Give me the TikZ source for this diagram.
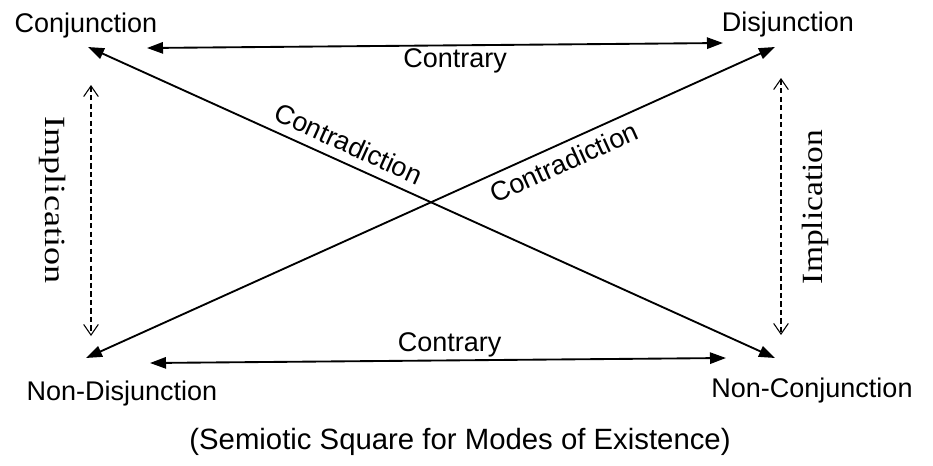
\documentclass[tikz,border=0pt]{standalone}
\usepackage{fontspec}
\setmainfont{Liberation Sans}
\newfontfamily\timesfont{Liberation Serif}
\usetikzlibrary{arrows.meta,calc}
\tikzset{
  >={Triangle[length=12pt,width=8.5pt]},
  barb/.tip={Straight Barb[length=8pt,width=11pt,line width=0.8pt]},
  corner/.style={font=\fontsize{20.25}{24}\selectfont,inner sep=0pt,anchor=base},
  tag/.style={font=\fontsize{20.25}{24}\selectfont,inner sep=1.5pt},
  flow/.style={<->,line width=1.4pt},
  impl/.style={barb-barb,line width=1.8pt,dash pattern=on 4pt off 2.4pt},
  imptext/.style={font=\timesfont\fontsize{22}{26}\selectfont,inner sep=0pt},
}
\begin{document}
\begin{tikzpicture}[x=0.75pt,y=-0.75pt]
  \useasboundingbox (0,0) rectangle (933,465);
  \node[corner] (conj) at (86,32) {Conjunction};
  \node[corner] (disj) at (788,31) {Disjunction};
  \node[corner] (ndisj) at (122,400) {Non-Disjunction};
  \node[corner] (nconj) at (812,397) {Non-Conjunction};
  % arrow ends near the corners
  \coordinate (conj-d) at ($(conj.base)+(2,15)$);
  \coordinate (conj-h) at ($(conj.base)+(61,16)$);
  \coordinate (conj-i) at ($(conj.base)+(5,53)$);
  \coordinate (disj-d) at ($(disj.base)+(-13,16)$);
  \coordinate (disj-h) at ($(disj.base)+(-65,12)$);
  \coordinate (disj-i) at ($(disj.base)+(-7,47)$);
  \coordinate (ndisj-d) at ($(ndisj.base)+(-36,-42)$);
  \coordinate (ndisj-h) at ($(ndisj.base)+(28,-37)$);
  \coordinate (ndisj-i) at ($(ndisj.base)+(-31,-64)$);
  \coordinate (nconj-d) at ($(nconj.base)+(-37,-39)$);
  \coordinate (nconj-h) at ($(nconj.base)+(-86,-39)$);
  \coordinate (nconj-i) at ($(nconj.base)+(-31,-62)$);
  \draw[flow] (conj-h) -- node[tag,below,pos=0.535] (ctop) {Contrary} (disj-h);
  \draw[flow] (ndisj-h) -- node[tag,above,pos=0.52] (cbot) {Contrary} (nconj-h);
  \draw[flow] (conj-d) -- node[tag,above=5pt,sloped,pos=0.368] (cd1) {Contradiction} (nconj-d);
  \draw[flow] (ndisj-d) -- node[tag,below=4pt,sloped,pos=0.683] (cd2) {Contradiction} (disj-d);
  \draw[impl] (conj-i) -- (ndisj-i);
  \draw[impl] (disj-i) -- (nconj-i);
  \node[imptext,rotate=-90] (impl) at (53,200) {\scalebox{1.23}[1]{Implication}};
  \node[imptext,rotate=90] (impr) at (815,207) {\scalebox{1.14}[1]{Implication}};
  \node[corner,font=\fontsize{22}{26}\selectfont] (cap) at (460,449) {(Semiotic Square for Modes of Existence)};
\end{tikzpicture}
\end{document}
